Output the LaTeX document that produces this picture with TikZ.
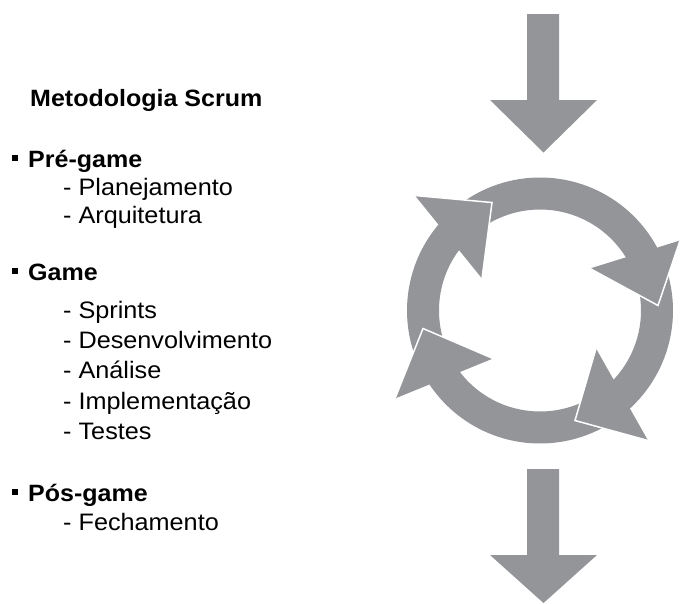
\documentclass[tikz,border=0pt]{standalone}
\usepackage{fontspec}
\setmainfont{Liberation Sans}[FakeStretch=1.06]
\definecolor{arrowgray}{RGB}{147,149,152}
\tikzset{
  ringpart/.style={fill=arrowgray},
  headpart/.style={fill=arrowgray},
  headedge/.style={draw=white, line width=1.5pt, line join=miter},
  bigarrow/.style={fill=arrowgray},
  titletext/.style={anchor=base west, inner sep=0pt, font=\fontsize{23.6}{28}\selectfont\bfseries},
  itemtext/.style={anchor=base west, inner sep=0pt, font=\fontsize{23.6}{28}\selectfont\bfseries},
  subtext/.style={anchor=base west, inner sep=0pt, font=\fontsize{23.8}{27}\selectfont},
  bulletsq/.style={fill=black, inner sep=0pt, minimum size=6.5pt, draw=none, rectangle}
}
\begin{document}
\begin{tikzpicture}[x=1pt,y=-1pt]
\useasboundingbox (0,0) rectangle (682,603);
\clip (0,0) rectangle (682,603);

% ---- text ----
\node[titletext] (title) at (30,106) {Metodologia Scrum};

\node[bulletsq] (b1) at (15.2,158) {};
\node[itemtext] (pre) at (28,167) {Pré-game};
\node[subtext] (plan) at (63,195) {- Planejamento};
\node[subtext] (arq) at (63,223.5) {- Arquitetura};

\node[bulletsq] (b2) at (15.2,271) {};
\node[itemtext] (game) at (28,280) {Game};
\node[subtext] (spr) at (63,318) {- Sprints};
\node[subtext] (des) at (63,348.3) {- Desenvolvimento};
\node[subtext] (ana) at (63,378.6) {- Análise};
\node[subtext] (imp) at (63,409) {- Implementação};
\node[subtext] (tes) at (63,439) {- Testes};

\node[bulletsq] (b3) at (15.2,492) {};
\node[itemtext] (pos) at (28,501) {Pós-game};
\node[subtext] (fec) at (63,530) {- Fechamento};

% ---- straight arrows ----
\fill[bigarrow] (527,14) -- (559,14) -- (559,100) -- (597,100) -- (543.5,152.5)
  -- (490,100) -- (527,100) -- cycle;
\fill[bigarrow] (527,469) -- (559,469) -- (559,555) -- (597,555) -- (543.5,603)
  -- (490,555) -- (527,555) -- cycle;

% ---- circular arrows ----
\begin{scope}[shift={(540,310.5)}, yscale=-1]
  % shafts
  \fill[ringpart] (206:133) arc[start angle=206, end angle=137.5, radius=133]
    -- (142:101) arc[start angle=142, end angle=206, radius=101] -- cycle;
  \fill[ringpart] (131:133) arc[start angle=131, end angle=26.5, radius=133]
    -- (29.5:101) arc[start angle=29.5, end angle=131, radius=101] -- cycle;
  \fill[ringpart] (21.5:133) arc[start angle=21.5, end angle=-49, radius=133]
    -- (-44.5:101) arc[start angle=-44.5, end angle=21.5, radius=101] -- cycle;
  \fill[ringpart] (-54.6:133) arc[start angle=-54.6, end angle=-146.5, radius=133]
    -- (-143.5:101) arc[start angle=-143.5, end angle=-54.6, radius=101] -- cycle;
  % heads
  \fill[headpart] (-125,115) -- (-48,108) -- (-58,32) -- cycle;
  \draw[headedge] (-125,115) -- (-48,108) -- (-58,32);
  \fill[headpart] (140,70) -- (118,5) -- (50,42) -- cycle;
  \draw[headedge] (140,70) -- (118,5) -- (50,42);
  \fill[headpart] (108,-130) -- (35,-110) -- (56,-38) -- cycle;
  \draw[headedge] (108,-130) -- (35,-110) -- (56,-38);
  \fill[headpart] (-145,-88) -- (-117,-18) -- (-47,-48) -- cycle;
  \draw[headedge] (-145,-88) -- (-117,-18) -- (-47,-48);
\end{scope}
\end{tikzpicture}
\end{document}
